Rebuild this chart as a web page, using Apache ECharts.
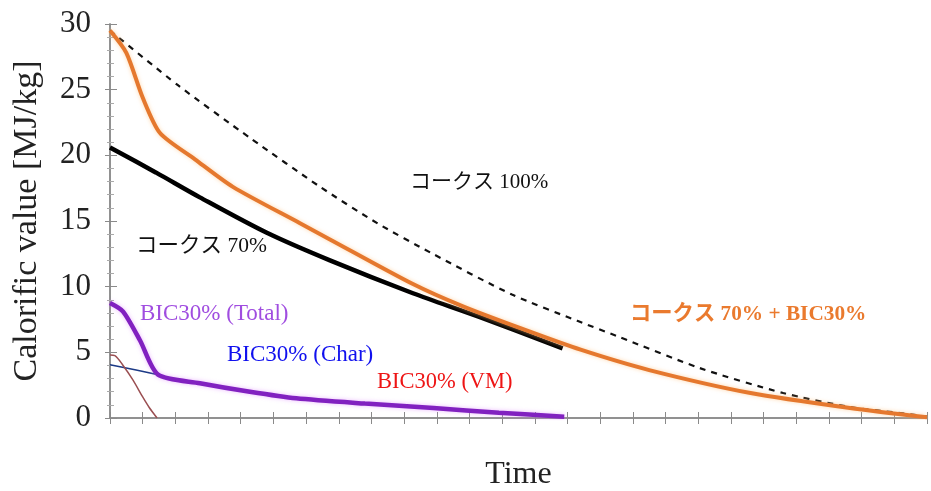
<!DOCTYPE html>
<html><head><meta charset="utf-8">
<script src="https://cdn.jsdelivr.net/npm/echarts@6/dist/echarts.min.js"></script>
<style>html,body{margin:0;padding:0;background:#fff}#c{width:931px;height:491px}</style>
</head><body><div id="c"></div>
<script>
// Data (x = time in arbitrary units, y = calorific value MJ/kg)
const coke100 = [[0,29.5],[2.1,25.3],[4.3,21.3],[6.43,17.6],[8.2,14.8],[9.8,12.6],[12.3,9.4],[14.3,7.4],[15.5,6.25],[18.05,3.8],[20.6,1.9],[22.64,0.84],[24.17,0.38],[25,0.1]];
const coke70 = [[0,20.6],[1.4,18.7],[2.75,16.8],[4.8,14.1],[6.73,12.0],[9.27,9.5],[11.3,7.7],[13.85,5.3]];
const cokeMix = [[0,29.5],[0.5,27.8],[1.0,24.4],[1.53,21.7],[2.6,19.7],[3.76,17.6],[5.8,14.85],[6.73,13.6],[9.27,10.2],[10.8,8.5],[12.6,6.8],[14.4,5.2],[16.5,3.65],[19.6,1.9],[22.64,0.76],[25,0.05]];
const bicTotal = [[0,8.75],[0.4,8.1],[0.92,5.9],[1.47,3.3],[2.75,2.65],[4.28,2.0],[5.7,1.5],[7.8,1.1],[9.9,0.76],[11.9,0.4],[13.9,0.1]];
const bicChar = [[0,4.05],[0.8,3.65],[1.47,3.3]];
const bicVM = [[0,4.8],[0.15,4.75],[0.4,4.0],[0.7,2.9],[1.0,1.6],[1.2,0.8],[1.44,0]];
const yTicks = [0,5,10,15,20,25,30];
const labels = {
  coke100: 'コークス 100%', coke70: 'コークス 70%', total: 'BIC30% (Total)',
  char: 'BIC30% (Char)', vm: 'BIC30% (VM)', mix: 'コークス 70% + BIC30%'
};

const serif = "'Liberation Serif','Noto Sans CJK JP',serif";
const chart = echarts.init(document.getElementById('c'), null, {renderer:'canvas'});
const axisLine = {show:true, lineStyle:{color:'#8a8a8a', width:1.5}};
const txt = (t, x, y, color, size, bold) => ({type:'text', x:x, y:y, z:10,
  style:{text:t, fill:color, verticalAlign:'middle', align:'left', font:(bold?'bold ':'')+size+'px '+serif}});
chart.setOption({
  animation:false,
  backgroundColor:'#fff',
  grid:{left:110, right:4, top:24, bottom:73, containLabel:false, outerBoundsMode:'none'},
  xAxis:[
    {type:'value', min:0, max:25, interval:1, position:'bottom', axisLine,
     axisTick:{show:true, inside:true, length:6, lineStyle:{color:'#8a8a8a'}},
     axisLabel:{show:false}, splitLine:{show:false},
     name:'Time', nameLocation:'middle', nameGap:41, nameTextStyle:{fontFamily:serif, fontSize:32, color:'#222'}},
    {type:'value', min:0, max:25, interval:1, position:'top', axisLine,
     axisTick:{show:true, inside:true, length:6, lineStyle:{color:'#8a8a8a'}},
     axisLabel:{show:false}, splitLine:{show:false}}
  ],
  yAxis:[
    {type:'value', min:0, max:30, interval:5, position:'left', axisLine,
     axisTick:{show:true, inside:true, length:7, lineStyle:{color:'#8a8a8a'}},
     minorTick:{show:true, splitNumber:5, length:4, lineStyle:{color:'#aaa'}},
     axisLabel:{fontFamily:serif, fontSize:31, color:'#222', margin:19, formatter:v=>yTicks.includes(v)?String(v):''},
     splitLine:{show:false},
     name:'Calorific value [MJ/kg]', nameLocation:'middle', nameGap:66, nameRotate:90,
     nameTextStyle:{fontFamily:serif, fontSize:34, color:'#222'}},
    {type:'value', min:0, max:30, interval:5, position:'right', axisLine,
     axisTick:{show:true, inside:true, length:5, lineStyle:{color:'#8a8a8a'}},
     minorTick:{show:true, splitNumber:5, length:3, lineStyle:{color:'#aaa'}},
     axisLabel:{show:false}, splitLine:{show:false}}
  ],
  series:[
    {type:'line', data:coke100, showSymbol:false, smooth:0.25, lineStyle:{color:'#111', width:2.2, type:[6,6]}, z:3},
    {type:'line', data:coke70, showSymbol:false, smooth:0.3, lineStyle:{color:'#000', width:4.5}, z:4},
    {type:'line', data:cokeMix, showSymbol:false, smooth:0.25, lineStyle:{color:'#e5782e', width:4, shadowColor:'rgba(255,190,120,0.6)', shadowBlur:4}, z:5},
    {type:'line', data:bicChar, showSymbol:false, smooth:0.2, lineStyle:{color:'#1c3a86', width:1.5}, z:4},
    {type:'line', data:bicVM, showSymbol:false, smooth:0.3, lineStyle:{color:'#9a4f52', width:1.5}, z:4},
    {type:'line', data:bicTotal, showSymbol:false, smooth:0.25, lineStyle:{color:'#8121c0', width:4.5, shadowColor:'rgba(220,120,255,0.5)', shadowBlur:4}, z:5}
  ],
  graphic:[
    txt(labels.coke100, 410, 182, '#111', 21),
    txt(labels.coke70, 136, 246, '#111', 21.5),
    txt(labels.total, 140, 314, '#a04de0', 23),
    txt(labels.char, 227, 355, '#1010ee', 23),
    txt(labels.vm, 377, 382, '#ee1515', 22.5),
    txt(labels.mix, 630, 314, '#ea7a2e', 21.3, true)
  ]
});
</script></body></html>
